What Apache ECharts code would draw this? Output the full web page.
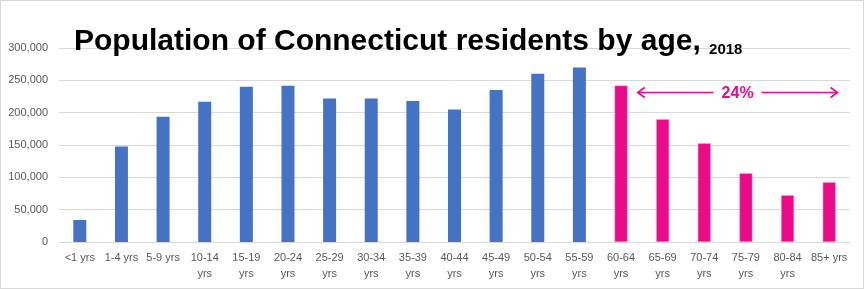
<!DOCTYPE html>
<html><head><meta charset="utf-8">
<script src="https://cdn.jsdelivr.net/npm/echarts@6/dist/echarts.min.js"></script>
<style>html,body{margin:0;padding:0;background:#fff}#c{width:864px;height:289px;box-sizing:border-box;border:1px solid #d9d9d9}</style>
</head><body><div id="c"></div>
<script>
const categories = ['<1 yrs','1-4 yrs','5-9 yrs','10-14\nyrs','15-19\nyrs','20-24\nyrs','25-29\nyrs','30-34\nyrs','35-39\nyrs','40-44\nyrs','45-49\nyrs','50-54\nyrs','55-59\nyrs','60-64\nyrs','65-69\nyrs','70-74\nyrs','75-79\nyrs','80-84\nyrs','85+ yrs'];
const youngerValues = [34000,147500,193500,216700,240000,241500,222000,222000,218000,205000,235000,260000,270000,null,null,null,null,null,null];
const olderValues = [null,null,null,null,null,null,null,null,null,null,null,null,null,242000,190000,152800,106300,72300,92400];
const yTicks = [0,50000,100000,150000,200000,250000,300000];
const annotationText = '24%';
const annotationY = 232000;

const chart = echarts.init(document.getElementById('c'));
chart.setOption({
  animation:false,
  backgroundColor:'#fff',
  title:{
    text:'{a|Population of Connecticut residents by age, }{b|2018}',
    left:68, top:21,
    textStyle:{rich:{
      a:{fontFamily:'Liberation Sans, Arial',fontWeight:'bold',fontSize:30,color:'#000'},
      b:{fontFamily:'Liberation Sans, Arial',fontWeight:'bold',fontSize:15,color:'#000',verticalAlign:'bottom'}
    }}
  },
  grid:{left:58,right:13,top:47,bottom:46},
  xAxis:{type:'category',data:categories,
    axisLine:{lineStyle:{color:'#d9d9d9'}},axisTick:{show:false},
    axisLabel:{color:'#595959',fontSize:11,fontFamily:'Liberation Sans, Arial',interval:0,lineHeight:16,margin:8}},
  yAxis:{type:'value',min:yTicks[0],max:yTicks[yTicks.length-1],interval:50000,
    axisLabel:{color:'#595959',fontSize:11,fontFamily:'Liberation Sans, Arial',margin:11,
      formatter:v=>v.toLocaleString('en-US')},
    splitLine:{lineStyle:{color:'#d9d9d9'}}},
  series:[
    {type:'bar',data:youngerValues,barWidth:13,itemStyle:{color:'#4472C4'}},
    {type:'bar',data:olderValues,barWidth:13,barGap:'-100%',itemStyle:{color:'#EA0A8A',borderColor:'#F7A8D2',borderWidth:0.5}}
  ]
});
const c13 = chart.convertToPixel({seriesIndex:1},[13,annotationY]);
const c14 = chart.convertToPixel({seriesIndex:1},[14,annotationY]);
const step = c14[0]-c13[0];
const xL = c13[0] + 0.4*step;
const xT = c13[0] + 2.8*step;
const xR = c13[0] + 5.2*step;
const y = Math.round(c13[1]) + 0.5;
const pink = '#EA0A8A';
chart.setOption({graphic:[
  {type:'line',shape:{x1:xL,y1:y,x2:xT-24,y2:y},style:{stroke:pink,lineWidth:1.6}},
  {type:'polyline',shape:{points:[[xL+7,y-5],[xL,y],[xL+7,y+5]]},style:{stroke:pink,lineWidth:1.6,fill:null}},
  {type:'line',shape:{x1:xT+24,y1:y,x2:xR,y2:y},style:{stroke:pink,lineWidth:1.6}},
  {type:'polyline',shape:{points:[[xR-7,y-5],[xR,y],[xR-7,y+5]]},style:{stroke:pink,lineWidth:1.6,fill:null}},
  {type:'text',x:xT,y:y+1,style:{text:annotationText,fill:pink,font:'bold 16px Liberation Sans, Arial',align:'center',verticalAlign:'middle'}}
]});
</script></body></html>
